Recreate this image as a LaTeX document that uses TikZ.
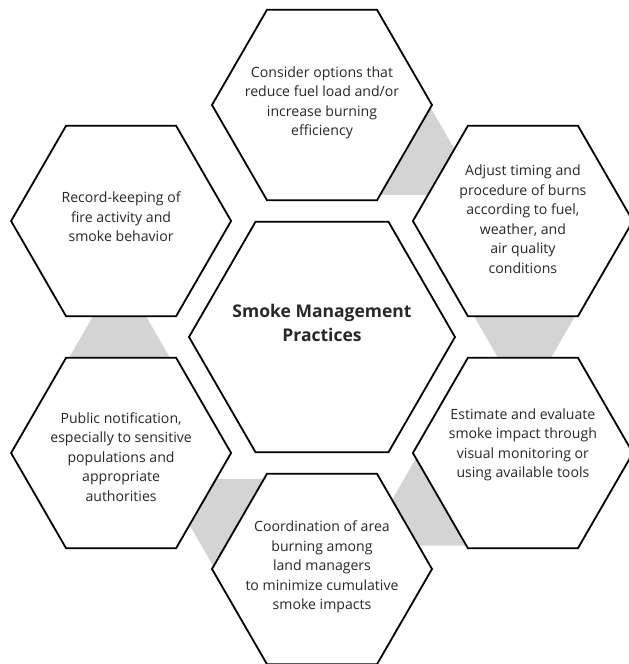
\documentclass[tikz,border=0pt]{standalone}
\usepackage{fontspec}
\setmainfont{Open Sans}
\usepackage{tikz}
\usepackage{xcolor}
\usetikzlibrary{shapes.geometric}

\definecolor{bandgray}{RGB}{212,212,212}
\definecolor{textgray}{RGB}{40,40,40}

\tikzset{
    hexa/.style={regular polygon, regular polygon sides=6, draw=black, line width=1.8pt,
        fill=white, inner sep=0pt, minimum size=220pt},
    hexbig/.style={hexa, minimum size=266pt},
    hextext/.style={align=center, text=textgray, inner sep=0pt,
        font=\fontsize{14.1}{19.5}\selectfont},
    titletext/.style={align=center, text=textgray, font=\fontsize{17.5}{24}\selectfont\bfseries}
}

\begin{document}
\begin{tikzpicture}[x=1pt,y=1pt]
            \useasboundingbox (-322,-327) rectangle (307,337);
            %\draw[help lines, step=50] (-322,-327) grid (307,337);

            \foreach \a in {60,0,-60,-120,180}
            {
                \fill[bandgray, rotate=\a] (146.7,30) -- (258.3,30) -- (223.7,-30) -- (181.3,-30) -- cycle;
            }

            \node[hexbig] (core) at (0,0) {};
            \node[titletext] (title) at ([yshift=14pt]core.center) {Smoke Management\\Practices};

            \foreach \a/\n in {90/fuel,30/timing,-30/impact,-90/coord,-150/notify,150/records}
                \node[hexa] (\n) at (\a:232) {};

            \node[hextext] (fuel-t) at ([yshift=2pt]fuel.center) {Consider options that\\reduce fuel load and/or\\increase burning\\efficiency};
            \node[hextext] (timing-t) at ([yshift=2pt]timing.center) {Adjust timing and\\procedure of burns\\according to fuel,\\weather, and\\air quality\\conditions};
            \node[hextext] (impact-t) at ([yshift=8pt]impact.center) {Estimate and evaluate\\smoke impact through\\visual monitoring or\\using available tools};
            \node[hextext] (coord-t) at ([yshift=2pt]coord.center) {Coordination of area\\burning among\\land managers\\to minimize cumulative\\smoke impacts};
            \node[hextext] (notify-t) at ([yshift=-4pt]notify.center) {Public notification,\\especially to sensitive\\populations and\\appropriate\\authorities};
            \node[hextext] (records-t) at ([yshift=4pt]records.center) {Record-keeping of\\fire activity and\\smoke behavior};

        \end{tikzpicture}
\end{document}
